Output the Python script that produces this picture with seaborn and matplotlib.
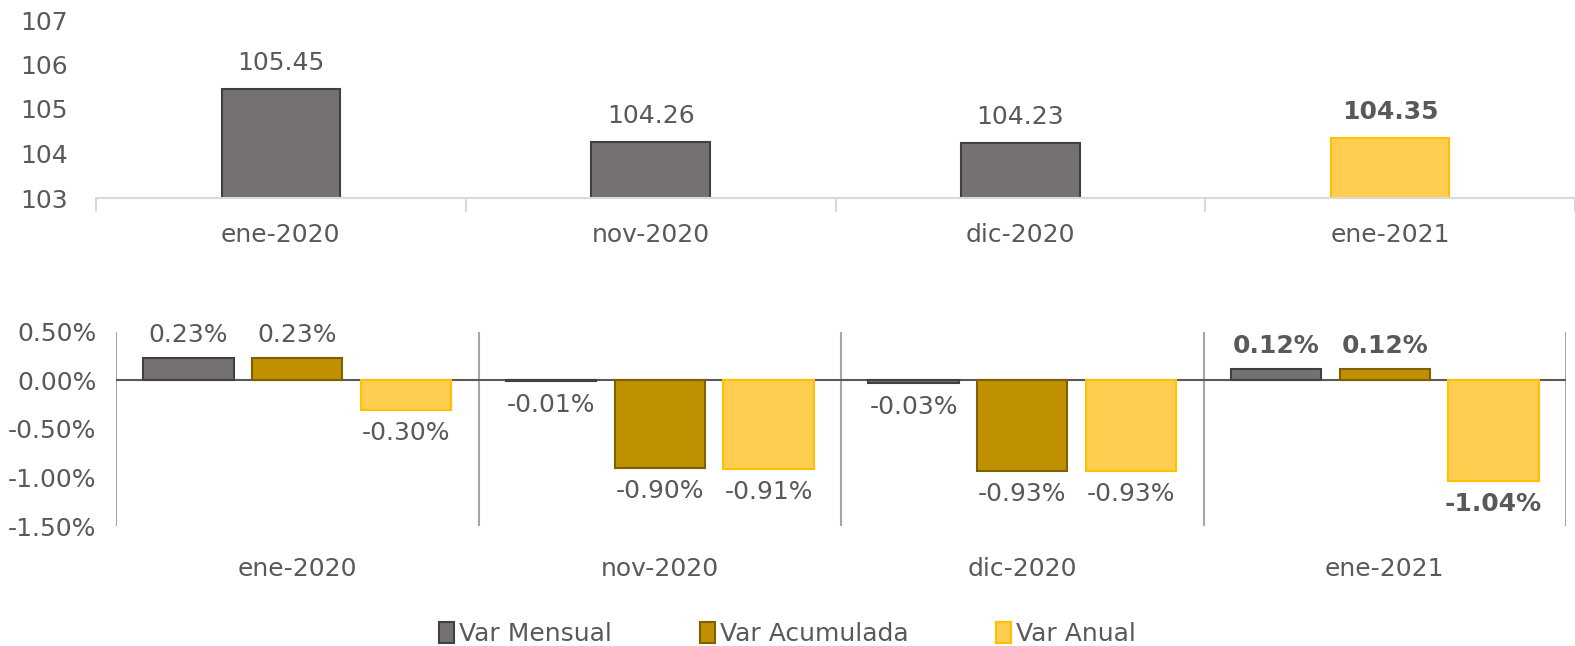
import matplotlib
matplotlib.use("Agg")
import matplotlib.pyplot as plt
import seaborn as sns
import pandas as pd
from matplotlib.patches import Patch
from matplotlib.ticker import FuncFormatter

# Data
months = ["ene-2020", "nov-2020", "dic-2020", "ene-2021"]
indice = [105.45, 104.26, 104.23, 104.35]
var_mensual = [0.23, -0.01, -0.03, 0.12]
var_acumulada = [0.23, -0.90, -0.93, 0.12]
var_anual = [-0.30, -0.91, -0.93, -1.04]
series_names = ["Var Mensual", "Var Acumulada", "Var Anual"]

text_col = "#595959"
fills = {"Var Mensual": "#767171", "Var Acumulada": "#BF9000", "Var Anual": "#FFCD50"}
edges = {"Var Mensual": "#404040", "Var Acumulada": "#7F6000", "Var Anual": "#FFC000"}

sns.set_theme(style="white")
plt.rcParams["font.family"] = ["DejaVu Sans"]
fs = 18

fig = plt.figure(figsize=(15.75, 6.46), dpi=100)

# ---- top panel: index level ----
ax1 = fig.add_axes([96 / 1575, 1 - 198 / 646, 1 - 96 / 1575, (198 - 20) / 646])
top_df = pd.DataFrame({"mes": months, "indice": indice})
top_pal = {m: "#767171" for m in months}
top_pal["ene-2021"] = "#FFCD50"
sns.barplot(data=top_df, x="mes", y="indice", hue="mes", palette=top_pal,
            width=0.32, saturation=1, legend=False, ax=ax1)
top_edges = ["#404040", "#404040", "#404040", "#FFC000"]
for i, cont in enumerate(ax1.containers):
    for bar in cont:
        bar.set_edgecolor(top_edges[i])
        bar.set_linewidth(1.5)
    lbls = ax1.bar_label(cont, fmt="%.2f", padding=10, fontsize=fs, color=text_col)
    if i == 3:
        for t in lbls:
            t.set_fontweight("bold")
ax1.set_ylim(103, 107)
ax1.set_xlim(-0.5, 3.5)
ax1.set_yticks([103, 104, 105, 106, 107])
ax1.set_xlabel("")
ax1.set_ylabel("")
for s in ["left", "right", "top"]:
    ax1.spines[s].set_visible(False)
ax1.spines["bottom"].set_color("#D9D9D9")
ax1.spines["bottom"].set_linewidth(1.5)
ax1.set_xticks([-0.5, 0.5, 1.5, 2.5, 3.5], minor=True)
ax1.tick_params(axis="x", which="minor", length=10, width=1.5, color="#D9D9D9", bottom=True)
ax1.tick_params(axis="x", which="major", length=0, pad=18, labelsize=fs, labelcolor=text_col)
ax1.tick_params(axis="y", length=0, pad=20, labelsize=fs, labelcolor=text_col)

# ---- bottom panel: variations ----
ax2 = fig.add_axes([116 / 1575, 1 - 526 / 646, (1566 - 116) / 1575, (526 - 332) / 646])
long_df = pd.DataFrame({
    "mes": months * 3,
    "serie": [series_names[0]] * 4 + [series_names[1]] * 4 + [series_names[2]] * 4,
    "valor": var_mensual + var_acumulada + var_anual,
})
sns.barplot(data=long_df, x="mes", y="valor", hue="serie", palette=fills,
            width=0.9, gap=0.17, saturation=1, legend=False, ax=ax2)
for name, cont in zip(series_names, ax2.containers):
    for bar in cont:
        bar.set_edgecolor(edges[name])
        bar.set_linewidth(1.5)
    lbls = ax2.bar_label(cont, labels=[f"{v:.2f}%" for v in cont.datavalues],
                         padding=8, fontsize=fs, color=text_col)
    lbls[-1].set_fontweight("bold")

ax2.axhline(0, color=text_col, lw=1.5, zorder=0.5)
for xb in [-0.5, 0.5, 1.5, 2.5, 3.5]:
    ax2.axvline(xb, color="#A6A6A6", lw=1.5, zorder=0.4)
ax2.set_ylim(-1.5, 0.5)
ax2.set_xlim(-0.5, 3.5)
ax2.set_yticks([0.5, 0, -0.5, -1.0, -1.5])
ax2.yaxis.set_major_formatter(FuncFormatter(lambda v, p: f"{v:.2f}%"))
ax2.set_xlabel("")
ax2.set_ylabel("")
for s in ax2.spines.values():
    s.set_visible(False)
ax2.tick_params(axis="x", length=0, pad=22, labelsize=fs, labelcolor=text_col)
ax2.tick_params(axis="y", length=0, pad=14, labelsize=fs, labelcolor=text_col)

handles = [Patch(facecolor=fills[n], edgecolor=edges[n], linewidth=1.5, label=n)
           for n in series_names]
fig.legend(handles=handles, loc="lower center", bbox_to_anchor=(0.5, -0.035), ncol=3,
           frameon=False, fontsize=fs, labelcolor=text_col, handlelength=0.6,
           handleheight=0.9, handletextpad=0.2, columnspacing=3.5)

fig.savefig("out.png", dpi=100)
